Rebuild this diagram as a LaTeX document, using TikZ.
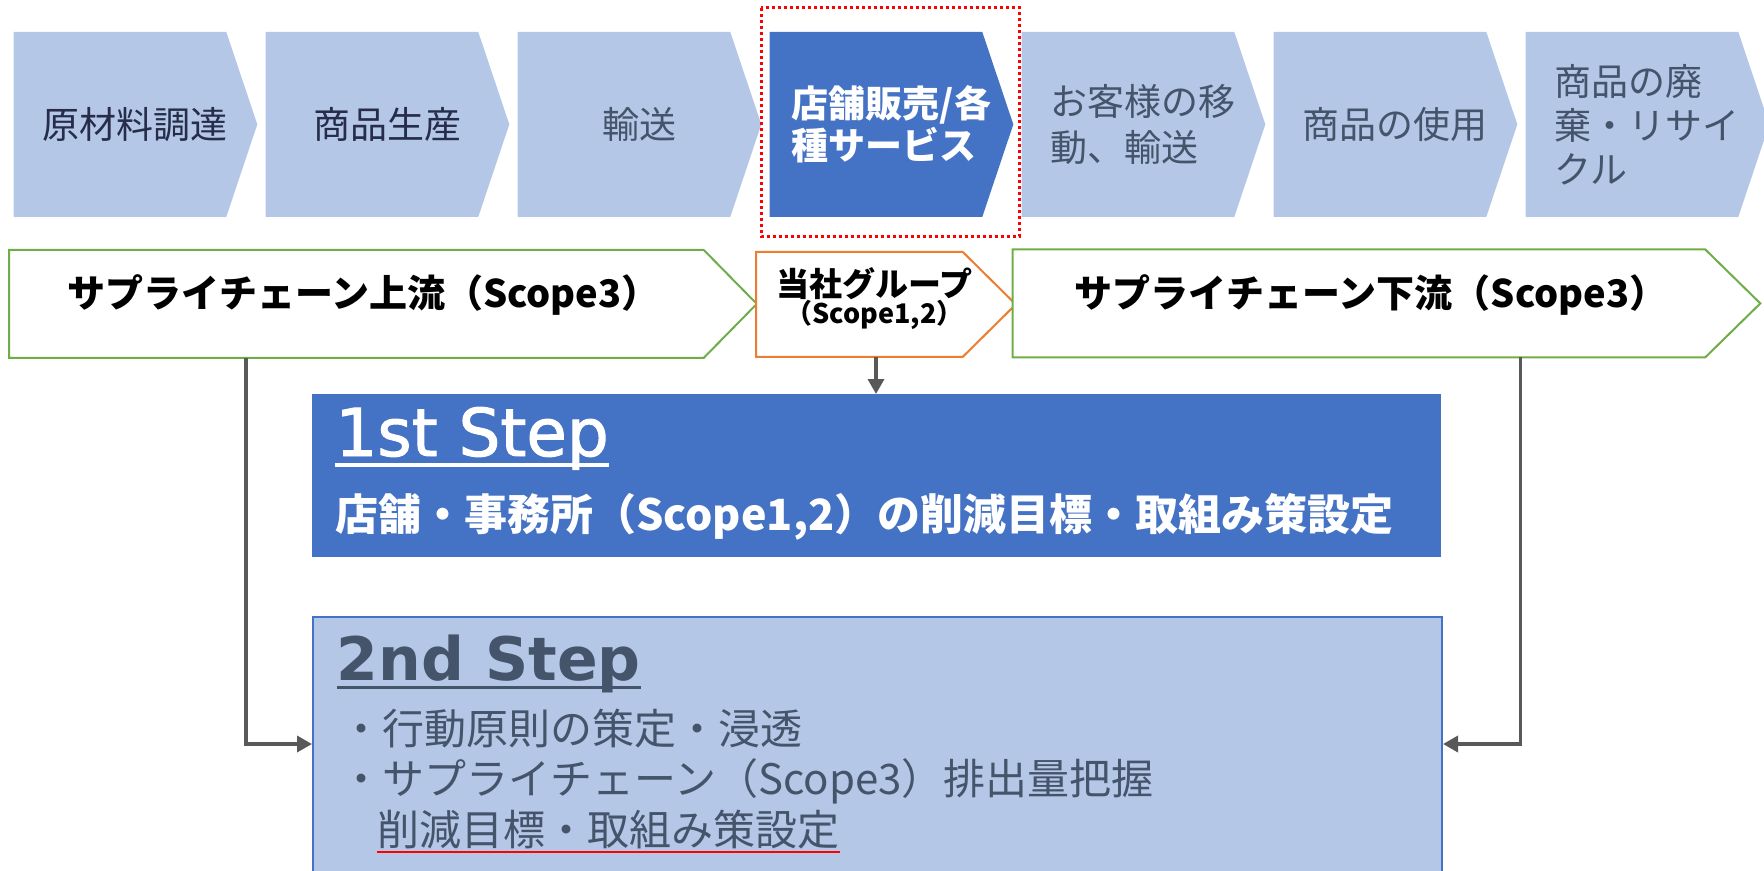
\documentclass[tikz,border=0pt]{standalone}
\usepackage{fontspec}
\setmainfont{Noto Sans CJK JP}
\newfontfamily\titlefont{DejaVu Sans}
\newfontfamily\stepfont[FakeBold=1.5]{DejaVu Sans}
\usetikzlibrary{positioning,arrows.meta,backgrounds}

\definecolor{lightblue}{HTML}{B4C7E7}
\definecolor{stepblue}{HTML}{4472C4}
\definecolor{slate}{HTML}{44546A}
\definecolor{navy}{HTML}{262C4A}
\definecolor{linegray}{HTML}{595959}
\definecolor{scopegreen}{HTML}{70AD47}
\definecolor{scopeorange}{HTML}{ED7D31}

% pentagon filling a whole node: node name, tip length, path style
\newcommand{\chevron}[3]{%
  \begin{scope}[on background layer]
    \path[#3] (#1.north west) -- ([xshift=-#2]#1.north east) -- (#1.east)
      -- ([xshift=-#2]#1.south east) -- (#1.south west) -- cycle;
  \end{scope}}
% pentagon with its tip outside a body node: node name, tip length, path style
\newcommand{\scopearrow}[3]{%
  \begin{scope}[on background layer]
    \path[#3] (#1.north west) -- (#1.north east) -- ([xshift=#2]#1.east)
      -- (#1.south east) -- (#1.south west) -- cycle;
  \end{scope}}

\begin{document}
\begin{tikzpicture}[x=0.5pt, y=-0.5pt, node distance=4.1pt]
        % Define block styles
        \tikzstyle{stage} = [rectangle, inner sep=0pt, minimum width=121.5pt, minimum height=92pt, align=left, text=slate, font=\fontsize{18.5pt}{22pt}\selectfont]
        \tikzstyle{scopebox} = [rectangle, inner sep=0pt, minimum height=53.5pt, anchor=north west]
        \tikzstyle{scopelabel} = [inner sep=0pt, align=center, font=\bfseries\fontsize{19pt}{22pt}\selectfont]
        \tikzstyle{bullet} = [anchor=base west, inner sep=0pt, text=slate, font=\fontsize{21pt}{26pt}\selectfont]
        \tikzstyle{line} = [draw=linegray, line width=1.75pt, -{Triangle[length=7.5pt,width=8pt]}]

        \useasboundingbox (0,0) rectangle (1764,871);

        % Value chain
        \node [stage, text=navy, anchor=north west] (raw) at (13.5,32) {原材料調達};
        \node [stage, text=navy, right=of raw] (make) {商品生産};
        \node [stage, right=of make] (ship) {輸送};
        \node [stage, right=of ship, text=white, font=\bfseries\fontsize{18.5pt}{21.25pt}\selectfont] (store) {店舗販売/各\\種サービス};
        \node [stage, right=of store, font=\fontsize{18.5pt}{23pt}\selectfont] (customer) {お客様の移\\動、輸送};
        \node [stage, right=of customer] (use) {商品の使用};
        \node [stage, right=of use, font=\fontsize{18.5pt}{22pt}\selectfont] (recycle) {商品の廃\\棄・リサイ\\クル};

        \chevron{raw}{15.5pt}{fill=lightblue}
        \chevron{make}{15.5pt}{fill=lightblue}
        \chevron{ship}{15.5pt}{fill=lightblue}
        \chevron{store}{15.5pt}{fill=stepblue}
        \chevron{customer}{15.5pt}{fill=lightblue}
        \chevron{use}{15.5pt}{fill=lightblue}
        \chevron{recycle}{15.5pt}{fill=lightblue}

        \draw [red, line width=1.5pt, dash pattern=on 1.5pt off 1.5pt] ([shift={(-4.1pt,12pt)}]store.north west) rectangle ([shift={(2.9pt,-10pt)}]store.south east);

        % Scopes
        \node [scopebox, minimum width=347pt] (upstream) at (9,250) {};
        \node [scopebox, minimum width=103pt, minimum height=52pt] (group) at (756,252) {};
        \node [scopebox, minimum width=346pt] (downstream) at (1012.5,249.5) {};

        \scopearrow{upstream}{26.5pt}{draw=scopegreen, line width=1pt, fill=white}
        \scopearrow{group}{26.5pt}{draw=scopeorange, line width=1pt, fill=white}
        \scopearrow{downstream}{27.5pt}{draw=scopegreen, line width=1pt, fill=white}

        \node [scopelabel] (upstreamlabel) at ([shift={(3.5pt,4.25pt)}]upstream.center) {サプライチェーン上流（Scope3）};
        \node [scopelabel, font=\bfseries\fontsize{16.5pt}{13.5pt}\selectfont] (grouplabel) at ([shift={(7.5pt,2.75pt)}]group.center) {当社グループ\\{\fontsize{13.5pt}{13.5pt}\selectfont（Scope1,2）}};
        \node [scopelabel] (downstreamlabel) at ([shift={(6pt,4pt)}]downstream.center) {サプライチェーン下流（Scope3）};

        % Steps
        \node [rectangle, fill=stepblue, minimum width=564.5pt, minimum height=81.5pt, anchor=north west, inner sep=0pt] (step1) at (312,394) {};
        \node [anchor=base west, inner sep=0pt, text=white, font=\stepfont\fontsize{33pt}{36pt}\selectfont] (step1title) at ([shift={(11.5pt,-31pt)}]step1.north west) {1st Step};
        \draw [white, line width=2pt] ([yshift=-4.5pt]step1title.base west) -- ([yshift=-4.5pt]step1title.base east);
        \node [anchor=base west, inner sep=0pt, text=white, font=\bfseries\fontsize{21.5pt}{26pt}\selectfont] (step1text) at ([shift={(11.5pt,-68pt)}]step1.north west) {店舗・事務所（Scope1,2）の削減目標・取組み策設定};

        \node [rectangle, fill=lightblue, draw=stepblue, line width=1pt, minimum width=564.5pt, minimum height=150pt, anchor=north west, inner sep=0pt] (step2) at (312,616) {};
        \node [anchor=base west, inner sep=0pt, text=slate, font=\titlefont\bfseries\fontsize{30pt}{36pt}\selectfont] (step2title) at ([shift={(12.25pt,-32pt)}]step2.north west) {2nd Step};
        \draw [slate, line width=1.5pt] ([yshift=-3.5pt]step2title.base west) -- ([yshift=-3.5pt]step2title.base east);
        \node [bullet] (rule1) at ([shift={(14pt,-64pt)}]step2.north west) {・行動原則の策定・浸透};
        \node [bullet] (rule2) at ([shift={(14pt,-89pt)}]step2.north west) {・サプライチェーン（Scope3）排出量把握};
        \node [bullet] (target) at ([shift={(32.5pt,-114.5pt)}]step2.north west) {削減目標・取組み策設定};
        \draw [red, line width=1pt] ([yshift=-3.5pt]target.base west) -- ([yshift=-3.5pt]target.base east);

        % Arrows
        \coordinate (groupfoot) at ([xshift=60pt]group.south west);
        \coordinate (upfoot) at ([xshift=118.5pt]upstream.south west);
        \coordinate (downfoot) at ([xshift=254pt]downstream.south west);
        \coordinate (step2left) at ([yshift=-64pt]step2.north west);
        \coordinate (step2right) at ([yshift=-64pt]step2.north east);
        \path [line] (groupfoot) -- (groupfoot |- step1.north);
        \path [line] (upfoot) |- (step2left);
        \path [line] (downfoot) |- (step2right);
\end{tikzpicture}
\end{document}
